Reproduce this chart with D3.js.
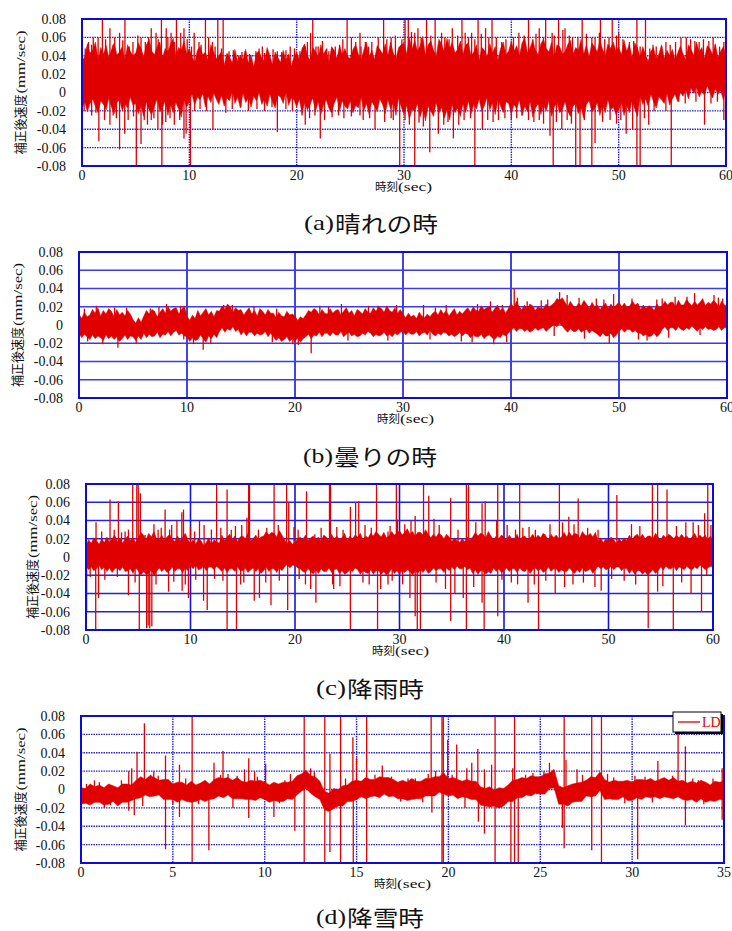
<!DOCTYPE html>
<html>
<head>
<meta charset="utf-8">
<script src="https://cdn.jsdelivr.net/npm/d3@7"></script>
<style>
  html, body { margin: 0; padding: 0; background: #fff; }
  svg { display: block; }
</style>
</head>
<body>
<svg id="chart" width="732" height="931"></svg>
<script>
// ---------------------------------------------------------------
// Corrected velocity records (mm/sec) under four weather conditions.
// Each record = dense core band (upper/lower envelope sampled every
// 0.25 s) + the isolated spikes that stand out of it.
// ---------------------------------------------------------------

const valueTicks = [0.08, 0.06, 0.04, 0.02, 0, -0.02, -0.04, -0.06, -0.08];
const valueTickLabels = ["0.08", "0.06", "0.04", "0.02", "0", "-0.02", "-0.04", "-0.06", "-0.08"];
const timeTicks60 = [0, 10, 20, 30, 40, 50, 60];
const timeTicks35 = [0, 5, 10, 15, 20, 25, 30, 35];

const captions = ["(a)", "(b)", "(c)", "(d)"];
const captionWords = ["晴れの時", "曇りの時", "降雨時", "降雪時"];
const yTitleJa = "補正後速度";
const yTitleUnit = "(mm/sec)";
const xTitleJa = "時刻";
const xTitleUnit = "(sec)";
const legendLabel = "LD";

// (a) clear weather — envelope every 0.25 s, 0…60 s
const clearHi = [
  .034,.039,.053,.043,.046,.055,.036,.049,.042,.051,.038,.047,.054,.041,.044,.050,.035,.052,.045,.040,
  .043,.054,.048,.039,.052,.058,.045,.041,.050,.055,.038,.048,.044,.053,.059,.040,.049,.046,.056,.042,
  .048,.039,.033,.046,.050,.041,.044,.035,.052,.045,.037,.040,.045,.030,.043,.039,.032,.047,.034,.040,
  .036,.047,.032,.041,.028,.043,.045,.037,.034,.049,.040,.030,.044,.038,.033,.046,.035,.042,.029,.039,
  .044,.036,.048,.053,.040,.035,.049,.045,.038,.052,.042,.047,.032,.050,.046,.037,.051,.041,.048,.039,
  .037,.047,.052,.042,.036,.046,.055,.039,.046,.036,.051,.047,.042,.053,.040,.055,.043,.037,.049,.052,
  .054,.042,.060,.047,.057,.045,.051,.061,.041,.052,.056,.046,.040,.058,.053,.044,.059,.048,.055,.043,
  .047,.056,.042,.052,.054,.040,.044,.052,.035,.049,.046,.039,.053,.043,.050,.036,.048,.055,.041,.045,
  .056,.045,.051,.040,.054,.060,.043,.049,.057,.046,.041,.053,.058,.048,.044,.055,.039,.052,.050,.042,
  .044,.052,.057,.042,.049,.046,.058,.042,.052,.039,.054,.050,.044,.057,.047,.040,.053,.048,.055,.045,
  .050,.041,.057,.045,.053,.038,.054,.049,.038,.050,.041,.034,.045,.049,.036,.042,.052,.037,.046,.040,
  .047,.036,.043,.051,.042,.036,.052,.047,.040,.055,.044,.049,.037,.051,.048,.041,.053,.038,.045,.050,
  .040];
const clearLo = [
  -.018,-.010,-.021,-.012,-.007,-.015,-.022,-.009,-.013,-.019,-.006,-.016,-.023,-.011,-.008,-.020,-.012,-.017,-.005,-.014,
  -.012,-.023,-.014,-.026,-.010,-.019,-.024,-.015,-.007,-.021,-.017,-.009,-.025,-.013,-.022,-.011,-.018,-.027,-.008,-.016,
  -.010,-.002,-.014,-.005,-.008,-.001,-.016,-.004,-.011,.000,-.007,-.013,-.003,-.015,-.006,-.009,.001,-.012,-.005,-.017,
  -.001,-.011,-.006,-.016,-.004,-.009,.000,-.013,-.007,-.015,-.002,-.010,-.017,-.003,-.005,-.012,.001,-.014,-.006,-.008,
  -.016,-.007,-.023,-.011,-.019,-.013,-.006,-.021,-.010,-.024,-.014,-.008,-.017,-.022,-.012,-.005,-.020,-.009,-.015,-.018,
  -.009,-.022,-.014,-.017,-.005,-.020,-.012,-.024,-.010,-.015,-.021,-.007,-.013,-.023,-.008,-.018,-.011,-.025,-.006,-.016,
  -.024,-.014,-.029,-.018,-.021,-.012,-.027,-.017,-.031,-.015,-.020,-.026,-.011,-.023,-.016,-.028,-.019,-.030,-.013,-.022,
  -.017,-.026,-.012,-.022,-.009,-.023,-.013,-.018,-.007,-.021,-.014,-.005,-.019,-.011,-.024,-.008,-.015,-.022,-.010,-.012,
  -.023,-.013,-.018,-.008,-.025,-.015,-.021,-.010,-.027,-.017,-.012,-.024,-.014,-.020,-.009,-.026,-.016,-.011,-.022,-.019,
  -.010,-.020,-.026,-.015,-.012,-.023,-.017,-.028,-.013,-.009,-.021,-.018,-.011,-.025,-.014,-.022,-.008,-.019,-.016,-.024,
  -.019,-.011,-.025,-.014,-.022,-.009,-.018,-.026,-.004,-.013,-.007,-.015,-.002,-.010,-.017,-.005,-.008,-.012,-.001,-.014,
  -.007,-.002,-.010,.000,-.004,.003,-.007,.005,-.001,.006,-.005,.001,-.003,.007,.000,-.006,.004,-.002,.002,-.008,
  .002];
const clearSpikes = [
  [1.9,.08],[4.0,.08],[7.4,.08],[8.8,.08],[11.5,.08],[12.65,.08],[13.15,.08],[21.5,.08],[24.7,.08],
  [28.1,.08],[30.1,.08],[30.4,.08],[32.1,.08],[32.9,.08],[35.4,.08],[36.9,.08],[38.2,.08],[41.6,.08],
  [43.2,.08],[44.4,.08],[46.6,.08],[48.3,.08],[49.4,.08],[51.7,.08],[52.5,.08],
  [5.06,-.08],[7.44,-.08],[10.1,-.08],[29.6,-.08],[31.0,-.08],[36.6,-.08],[43.9,-.08],[46.0,-.08],
  [46.4,-.08],[47.5,-.08],[51.7,-.08],[52.0,-.08],[54.9,-.08],
  [0.6,.055],[1.05,.06],[1.5,.06],[2.6,.07],[3.05,.06],[3.5,.065],[4.75,.055],[5.5,.06],[6.45,.07],
  [6.9,.065],[7.85,.07],[8.3,.065],[9.2,.065],[9.5,.07],[10.45,.065],[10.9,.055],[12.15,.055],
  [13.7,.045],[14.6,.04],[15.2,.045],[16.2,.045],[16.8,.05],[17.4,.04],[18.2,.045],[19.4,.05],
  [20.3,.045],[20.8,.05],[21.3,.065],[22.0,.05],[23.0,.045],[23.6,.05],[25.1,.06],[25.9,.065],
  [26.4,.055],[26.7,.05],[28.8,.06],[31.0,.065],[31.3,.07],[33.5,.065],[34.5,.07],[35.7,.065],
  [36.3,.065],[37.6,.07],[39.1,.055],[40.7,.065],[42.6,.07],[43.8,.065],[45.0,.07],[45.7,.06],
  [47.5,.06],[48.2,.065],[50.0,.065],[51.0,.055],[53.5,.05],[54.4,.055],[55.8,.06],[56.3,.06],
  [57.5,.055],[58.8,.06],[59.4,.05],
  [0.3,.048],[0.9,.052],[2.2,.058],[2.9,.052],[3.8,.057],[4.4,.05],[5.2,.062],[5.9,.055],[6.2,.06],
  [7.1,.058],[8.0,.06],[8.6,.055],[9.8,.058],[10.2,.05],[11.1,.052],[11.8,.06],[12.4,.05],[13.0,.048],
  [14.1,.046],[14.9,.044],[15.6,.042],[16.5,.048],[17.0,.043],[17.8,.047],[18.6,.044],[19.0,.046],
  [19.8,.048],[21.0,.055],[21.8,.05],[22.4,.056],[22.8,.048],[24.0,.052],[24.3,.058],[25.5,.055],
  [26.0,.05],[27.0,.055],[27.6,.06],[28.4,.058],[29.2,.062],[29.8,.058],[30.7,.066],[31.6,.06],
  [32.5,.062],[33.8,.06],[34.2,.058],[35.0,.062],[36.0,.06],[36.6,.058],[37.2,.064],[37.9,.06],
  [38.6,.06],[39.5,.058],[40.2,.06],[41.2,.062],[42.0,.058],[42.3,.064],[43.0,.06],[44.0,.062],
  [44.8,.068],[45.4,.062],[46.2,.06],[47.0,.064],[47.8,.06],[48.7,.058],[49.1,.06],[49.8,.062],
  [50.4,.058],[51.4,.056],[52.0,.05],[52.9,.048],[53.2,.052],[54.0,.05],[54.8,.052],[55.3,.055],
  [56.7,.058],[57.1,.056],[57.9,.058],[58.4,.056],[59.0,.052],[59.8,.055],
  [0.5,-.015],[1.57,-.053],[2.6,-.035],[3.5,-.062],[3.98,-.045],[5.5,-.056],[6.45,-.03],[7.07,-.04],
  [7.5,-.035],[9.5,-.05],[9.7,-.045],[12.2,-.04],[13.4,-.022],[18.2,-.043],[20.5,-.025],[20.8,-.035],
  [22.2,-.05],[23.9,-.025],[25.9,-.025],[27.3,-.04],[28.8,-.028],[30.1,-.03],[31.8,-.037],[32.4,-.065],
  [33.2,-.045],[34.6,-.05],[35.1,-.035],[37.3,-.04],[38.8,-.03],[41.0,-.025],[42.6,-.03],[43.6,-.047],
  [44.7,-.04],[47.8,-.055],[50.7,-.045],[51.3,-.04],[52.8,-.035],[54.4,-.02],[58.0,-.035],[59.8,-.03],
  [0.2,-.02],[0.9,-.025],[1.3,-.022],[2.1,-.03],[2.9,-.025],[3.2,-.028],[4.3,-.03],[4.8,-.026],
  [5.8,-.03],[6.1,-.035],[6.7,-.028],[7.8,-.032],[8.2,-.028],[8.6,-.035],[9.1,-.03],[10.5,-.02],
  [11.0,-.018],[11.6,-.02],[14.0,-.018],[14.8,-.016],[15.5,-.02],[16.3,-.018],[17.0,-.02],[17.7,-.016],
  [19.0,-.018],[19.6,-.02],[21.2,-.028],[21.7,-.025],[22.6,-.03],[23.3,-.027],[24.4,-.028],[25.1,-.026],
  [26.2,-.03],[26.8,-.028],[28.2,-.032],[29.0,-.03],[30.5,-.035],[31.4,-.033],[33.7,-.035],[34.1,-.032],
  [35.6,-.03],[36.2,-.028],[37.8,-.03],[38.3,-.032],[39.4,-.028],[40.0,-.03],[40.5,-.028],[41.6,-.03],
  [42.1,-.032],[43.0,-.034],[44.2,-.032],[45.2,-.03],[45.6,-.034],[46.8,-.03],[48.5,-.032],[49.2,-.03],
  [49.8,-.034],[50.2,-.03],[52.4,-.028],[53.3,-.02],[55.6,-.01],[56.2,-.012],[57.2,-.01],[58.6,-.012],
  [59.2,-.01]
];

// (b) cloudy — envelope every 0.25 s, 0…60 s
const cloudyHi = [
  .012,.007,.014,.009, .011,.017,.013,.019, .010,.016,.012,.018, .015,.009,.017,.011, .014,.010,.016,.012,
  .006,.002,.008,.003, .010,.016,.012,.017, .015,.009,.014,.018, .013,.020,.015,.018, .019,.012,.017,.021,
  .010,.005,.011,.007, .016,.010,.014,.018, .011,.015,.009,.016, .015,.021,.017,.023, .020,.014,.019,.016,
  .017,.011,.015,.019, .012,.016,.010,.018, .015,.011,.017,.013, .013,.008,.014,.010, .009,.015,.011,.012,
  .010,.005,.009,.007, .011,.016,.014,.018, .016,.011,.017,.013, .012,.018,.013,.016, .017,.011,.015,.019,
  .013,.016,.010,.017, .015,.012,.018,.014, .013,.019,.015,.020, .018,.014,.021,.016, .014,.019,.013,.017,
  .012,.008,.013,.009, .011,.007,.014,.010, .008,.012,.009,.013, .015,.011,.017,.012, .016,.010,.014,.018,
  .011,.015,.012,.016, .019,.014,.020,.016, .015,.021,.017,.019, .020,.014,.018,.022, .016,.019,.013,.018,
  .024,.019,.026,.020, .017,.022,.018,.023, .021,.016,.020,.018, .018,.023,.019,.022, .024,.029,.027,.030,
  .025,.020,.026,.021, .019,.024,.021,.027, .023,.018,.025,.020, .022,.017,.021,.024, .018,.023,.019,.022,
  .025,.020,.024,.019, .021,.026,.022,.024, .017,.022,.018,.021, .020,.016,.023,.019, .021,.026,.022,.025,
  .025,.020,.027,.022, .022,.028,.024,.021, .026,.022,.025,.029, .021,.025,.023,.027, .024,.020,.026,.022,
  .021];
const cloudyLo = [
  -.009,-.014,-.010,-.013, -.016,-.011,-.015,-.012, -.014,-.017,-.011,-.015, -.012,-.016,-.013,-.018, -.015,-.011,-.016,-.012,
  -.013,-.017,-.012,-.016, -.009,-.014,-.010,-.013, -.012,-.008,-.014,-.010, -.011,-.007,-.012,-.008, -.006,-.011,-.009,-.012,
  -.013,-.018,-.014,-.017, -.016,-.011,-.015,-.019, -.012,-.015,-.010,-.014, -.007,-.003,-.008,-.004, -.006,-.002,-.007,-.005,
  -.011,-.007,-.012,-.008, -.008,-.012,-.009,-.011, -.010,-.007,-.013,-.009, -.013,-.017,-.014,-.018, -.016,-.013,-.018,-.015,
  -.018,-.014,-.019,-.015, -.013,-.010,-.015,-.011, -.012,-.008,-.013,-.009, -.009,-.012,-.008,-.011, -.011,-.007,-.013,-.010,
  -.008,-.012,-.010,-.013, -.012,-.009,-.011,-.007, -.009,-.013,-.010,-.012, -.011,-.008,-.012,-.010, -.013,-.009,-.011,-.008,
  -.007,-.011,-.008,-.010, -.010,-.007,-.012,-.009, -.008,-.011,-.006,-.010, -.012,-.009,-.011,-.008, -.009,-.012,-.010,-.013,
  -.011,-.008,-.012,-.009, -.010,-.014,-.011,-.013, -.013,-.010,-.015,-.012, -.011,-.014,-.016,-.012, -.014,-.010,-.012,-.009,
  -.006,-.003,-.007,-.004, -.004,-.007,-.005,-.008, -.006,-.003,-.006,-.004, -.003,-.007,-.004,-.002, .001,-.002,.002,-.001,
  -.005,-.008,-.004,-.007, -.007,-.004,-.008,-.006, -.005,-.009,-.006,-.008, -.010,-.013,-.009,-.012, -.012,-.009,-.014,-.011,
  -.007,-.004,-.008,-.005, -.005,-.008,-.006,-.009, -.009,-.012,-.010,-.013, -.012,-.009,-.013,-.010, -.005,-.002,-.006,-.003,
  -.003,-.006,-.002,-.005, -.006,-.003,-.005,-.001, -.004,-.007,-.003,-.005, -.002,-.005,-.004,-.006, -.005,-.002,-.006,-.003,
  -.003];
const cloudySpikes = [
  [1.6,.021],[2.2,-.021],[3.3,.019],[3.6,-.025],[7.4,.020],[8.1,.023],[11.5,-.027],[12.2,-.020],
  [14.2,.022],[19.8,-.021],[21.5,-.031],[22.3,.021],[24.3,.023],[26.8,.021],[31.9,.022],[34.0,.022],
  [36.4,-.019],[38.1,.026],[38.4,-.021],[40.3,.040],[40.6,.030],[42.8,.027],[44.5,.036],[45.2,.033],
  [47.9,.029],[49.1,-.020],[49.5,.034],[52.6,-.017],[53.5,.028],[55.2,.031],[57.0,.035],[58.8,.033],
  [59.6,.029],
  [0.5,.018],[4.4,.019],[6.6,.018],[9.4,.021],[13.4,.022],[16.2,.020],[18.3,.018],[23.1,.020],
  [27.7,.021],[29.4,.022],[33.0,.019],[36.9,.023],[39.2,.022],[41.5,.026],[43.4,.028],[46.3,.030],
  [48.6,.028],[51.2,.029],[54.0,.029],[56.3,.031],[59.2,.030],
  [0.8,-.018],[5.3,-.020],[9.7,-.016],[10.6,-.021],[17.9,-.019],[20.3,-.022],[24.9,-.017],[28.6,-.017],
  [32.5,-.016],[35.4,-.018],[39.6,-.019],[44.0,-.012],[46.8,-.015],[51.8,-.016],[54.6,-.014],[57.5,-.011]
];

// (c) rain — envelope every 0.25 s, 0…60 s
const rainHi = [
  .013,.019,.015,.021, .018,.014,.020,.016, .022,.016,.020,.024, .017,.021,.015,.020, .023,.018,.021,.016,
  .021,.027,.024,.019, .026,.022,.028,.020, .019,.024,.018,.022, .025,.020,.017,.023, .018,.022,.026,.019,
  .015,.019,.014,.020, .018,.013,.016,.021, .014,.019,.017,.015, .024,.018,.022,.025, .019,.023,.017,.022,
  .023,.020,.026,.018, .020,.024,.019,.022, .023,.028,.024,.027, .026,.022,.029,.024, .019,.015,.018,.014,
  .016,.020,.022,.019, .024,.018,.021,.023, .019,.022,.017,.024, .022,.018,.025,.020, .023,.019,.021,.026,
  .018,.023,.020,.024, .022,.026,.019,.023, .021,.026,.023,.028, .025,.022,.027,.021, .023,.028,.024,.026,
  .029,.024,.027,.031, .025,.028,.023,.027, .027,.024,.030,.025, .021,.025,.022,.026, .024,.020,.025,.022,
  .017,.021,.018,.016, .020,.017,.022,.019, .022,.027,.023,.026, .025,.021,.028,.023, .019,.023,.020,.024,
  .022,.018,.024,.020, .020,.025,.019,.022, .023,.019,.021,.025, .020,.024,.021,.026, .023,.019,.025,.021,
  .024,.020,.022,.027, .022,.027,.023,.026, .025,.021,.028,.024, .023,.026,.022,.027, .017,.021,.016,.020,
  .018,.022,.019,.015, .020,.017,.021,.018, .024,.019,.023,.025, .021,.025,.020,.023, .023,.020,.026,.022,
  .019,.024,.021,.025, .023,.020,.024,.021, .025,.021,.023,.019, .022,.026,.020,.024, .021,.024,.019,.023,
  .018];
const rainLo = [
  -.010,-.014,-.011,-.015, -.013,-.009,-.014,-.011, -.016,-.012,-.017,-.013, -.012,-.015,-.011,-.016, -.015,-.013,-.018,-.012,
  -.015,-.020,-.016,-.019, -.018,-.014,-.021,-.016, -.012,-.016,-.013,-.017, -.015,-.011,-.016,-.013, -.013,-.017,-.012,-.015,
  -.010,-.013,-.009,-.014, -.013,-.010,-.015,-.011, -.011,-.014,-.010,-.013, -.016,-.012,-.017,-.013, -.013,-.016,-.011,-.015,
  -.015,-.012,-.017,-.014, -.012,-.016,-.013,-.018, -.015,-.011,-.016,-.013, -.013,-.017,-.012,-.015, -.011,-.008,-.012,-.009,
  -.009,-.012,-.013,-.016, -.017,-.013,-.016,-.019, -.014,-.018,-.013,-.016, -.016,-.012,-.017,-.014, -.013,-.018,-.015,-.019,
  -.017,-.014,-.016,-.012, -.014,-.019,-.015,-.017, -.018,-.014,-.019,-.015, -.015,-.019,-.016,-.020, -.017,-.013,-.018,-.015,
  -.019,-.015,-.017,-.014, -.016,-.020,-.015,-.018, -.014,-.017,-.013,-.018, -.016,-.012,-.015,-.013, -.013,-.017,-.012,-.015,
  -.011,-.014,-.010,-.013, -.013,-.010,-.014,-.012, -.018,-.014,-.019,-.015, -.015,-.019,-.016,-.018, -.012,-.016,-.013,-.017,
  -.015,-.012,-.016,-.013, -.013,-.017,-.012,-.015, -.016,-.013,-.018,-.014, -.012,-.015,-.013,-.017, -.015,-.011,-.016,-.013,
  -.013,-.017,-.014,-.016, -.016,-.012,-.015,-.018, -.014,-.017,-.012,-.016, -.015,-.013,-.018,-.014, -.010,-.013,-.011,-.014,
  -.013,-.010,-.014,-.011, -.011,-.015,-.012,-.013, -.018,-.014,-.019,-.015, -.015,-.019,-.016,-.020, -.017,-.014,-.018,-.015,
  -.011,-.014,-.010,-.013, -.013,-.010,-.015,-.011, -.012,-.014,-.010,-.013, -.014,-.011,-.013,-.009, -.011,-.014,-.012,-.010,
  -.011];
const rainSpikes = [
  [4.47,.08],[4.86,.08],[5.0,.08],[12.5,.08],[15.56,.08],[15.65,.08],[18.0,.08],[19.2,.08],[23.3,.08],
  [23.4,.08],[27.8,.08],[29.7,.08],[32.3,.08],[36.4,.08],[36.6,.08],[39.4,.08],[41.5,.08],[45.3,.08],
  [54.2,.08],[54.7,.08],[59.5,.08],
  [0.93,-.08],[5.1,-.08],[13.5,-.08],[14.4,-.08],[25.3,-.08],[27.9,-.08],[31.7,-.08],[32.0,-.08],
  [36.4,-.08],[38.1,-.08],[43.3,-.08],[56.2,-.08],
  [0.96,.038],[2.3,.063],[3.1,.061],[3.74,.028],[4.06,.030],[5.2,.070],[5.65,.024],[6.5,.036],
  [7.57,.052],[8.2,.035],[8.7,.040],[9.17,.049],[9.33,.052],[10.0,.033],[10.86,.040],[11.3,.035],
  [13.5,.074],[14.9,.035],[15.4,.043],[19.4,.060],[19.9,.033],[21.1,.072],[21.9,.025],[25.3,.055],
  [25.8,.060],[26.1,.061],[28.9,.028],[29.8,.041],[31.5,.045],[32.8,.067],[33.3,.042],[34.9,.065],
  [37.9,.059],[38.2,.061],[39.3,.040],[41.1,.030],[42.4,.033],[43.0,.030],[43.9,.025],[46.2,.044],
  [47.1,.064],[50.8,.068],[55.6,.074],[58.1,.038],[59.2,.048],[59.8,.035],
  [1.5,.028],[2.7,.030],[3.4,.027],[6.9,.030],[7.2,.032],[8.0,.030],[10.4,.028],[12.0,.030],
  [12.9,.032],[13.9,.030],[14.3,.034],[16.5,.030],[17.3,.032],[18.4,.035],[20.3,.030],[22.5,.032],
  [24.0,.033],[24.6,.030],[26.7,.035],[27.3,.032],[29.1,.034],[30.5,.036],[31.1,.040],[33.8,.035],
  [35.6,.030],[37.3,.038],[40.3,.035],[41.8,.032],[44.4,.036],[45.6,.038],[46.7,.036],[48.0,.032],
  [49.0,.030],[52.2,.036],[53.0,.034],[56.5,.034],[57.4,.038],[58.6,.035],
  [0.06,-.060],[0.4,-.022],[1.2,-.045],[4.06,-.042],[5.8,-.078],[5.95,-.075],[6.1,-.078],[6.3,-.076],
  [7.9,-.038],[9.2,-.037],[9.5,-.030],[9.8,-.045],[11.25,-.048],[11.6,-.058],[15.1,-.028],[16.1,-.048],
  [16.6,-.045],[17.7,-.053],[19.3,-.058],[21.5,-.035],[22.0,-.050],[23.6,-.030],[23.7,-.035],
  [28.2,-.035],[28.9,-.030],[31.0,-.045],[31.5,-.065],[34.4,-.035],[34.9,-.070],[35.3,-.040],
  [36.1,-.045],[37.9,-.050],[39.4,-.065],[39.8,-.025],[42.3,-.050],[42.9,-.030],[44.9,-.040],
  [45.8,-.033],[48.7,-.033],[49.3,-.037],[53.8,-.078],[54.7,-.038],[57.9,-.040],[58.9,-.060],[59.4,-.020],
  [1.8,-.025],[3.0,-.022],[4.7,-.028],[6.7,-.030],[8.4,-.027],[10.5,-.025],[12.3,-.024],[13.1,-.026],
  [14.8,-.030],[17.2,-.028],[18.5,-.026],[20.4,-.024],[21.0,-.030],[24.3,-.032],[26.5,-.028],
  [27.1,-.030],[29.3,-.026],[30.3,-.030],[33.5,-.028],[37.1,-.033],[40.7,-.028],[41.3,-.030],
  [44.0,-.026],[46.6,-.030],[47.6,-.028],[50.3,-.024],[51.5,-.026],[52.6,-.030],[55.2,-.032],[57.0,-.028]
];

// (d) snow — envelope every 0.25 s, 0…35 s
const snowHi = [
  .002,.001,.006,.003, .005,.002,.006,.004, .002,.006,.006,.005, .010,.014,.011,.015,
  .013,.010,.011,.011, .006,.008,.008,.005, .009,.005,.007,.010, .006,.011,.013,.012,
  .013,.010,.013,.009, .008,.010,.009,.010, .008,.005,.008,.006, .008,.008,.009,.015,
  .017,.021,.015,.014, .009,-.002,-.004,.001, .000,.004,.005,.009, .010,.009,.013,.011,
  .011,.014,.013,.013, .011,.008,.010,.008, .012,.009,.009,.012, .012,.014,.014,.018,
  .012,.013,.011,.009, .011,.009,.009,.003, .001,.003,-.001,.002, .001,.005,.010,.011,
  .013,.012,.015,.014, .014,.017,.018,.022, .004,.002,.004,.006, .007,.008,.010,.014,
  .013,.019,.011,.008, .010,.009,.009,.010, .008,.011,.011,.010, .012,.009,.011,.013,
  .010,.013,.009,.010, .007,.009,.007,.010, .008,.005,.009,.008, .009];
const snowLo = [
  -.016,-.015,-.017,-.014, -.014,-.017,-.016,-.013, -.018,-.014,-.014,-.012, -.010,-.009,-.006,-.008,
  -.007,-.006,-.011,-.011, -.011,-.014,-.011,-.013, -.014,-.013,-.011,-.013, -.011,-.010,-.007,-.009,
  -.006,-.010,-.010,-.010, -.011,-.011,-.012,-.009, -.011,-.014,-.012,-.013, -.013,-.010,-.011,-.006,
  -.002,.001,-.004,-.008, -.011,-.022,-.024,-.021, -.018,-.018,-.013,-.013, -.011,-.008,-.010,-.008,
  -.007,-.009,-.005,-.008, -.007,-.010,-.010,-.012, -.011,-.010,-.010,-.007, -.007,-.007,-.003,-.005,
  -.007,-.006,-.010,-.008, -.009,-.011,-.011,-.017, -.018,-.019,-.018,-.020, -.018,-.013,-.013,-.009,
  -.009,-.006,-.007,-.004, -.005,-.005,.001,.002, -.016,-.016,-.018,-.014, -.013,-.013,-.007,-.008,
  -.007,-.001,-.011,-.010, -.011,-.011,-.008,-.012, -.012,-.009,-.011,-.008, -.009,-.008,-.010,-.008,
  -.009,-.010,-.008,-.011, -.012,-.011,-.014,-.010, -.014,-.012,-.013,-.011, -.011];
const snowSpikes = [
  [0.0,-.015],[0.73,.010],[1.27,-.020],[2.6,.020],[2.6,-.023],[2.76,.023],[2.9,-.028],[3.05,.041],
  [3.36,-.018],[3.45,.072],[3.96,.020],[4.6,.037],[4.6,-.065],[5.36,.027],[5.36,-.030],[6.05,.08],
  [6.05,-.08],[6.96,-.066],[7.24,.029],[7.73,.042],[8.27,-.020],[8.9,.022],[9.13,.034],[9.13,-.031],
  [9.45,.020],[10.05,.028],[10.5,-.030],[11.4,.017],[11.64,-.045],[12.15,.08],[12.15,-.08],[12.5,.023],
  [13.27,.08],[13.27,-.08],[13.55,.039],[13.55,-.068],[14.13,.08],[14.13,-.08],[14.8,.057],[14.82,-.08],
  [15.0,.035],[15.55,.08],[15.55,-.08],[16.4,.026],[17.8,.012],[18.9,.017],[19.06,.08],[19.1,-.025],
  [19.3,.020],[19.65,.08],[19.65,-.08],[19.72,.08],[19.72,-.08],[19.96,.054],[20.45,.049],[20.45,-.008],
  [20.9,-.020],[21.0,.023],[21.27,.029],[21.6,.044],[21.63,-.035],[21.96,.022],[21.96,-.048],
  [22.35,.027],[22.54,.08],[22.54,-.08],[23.4,-.08],[23.5,.023],[23.6,.08],[23.6,-.08],[23.8,-.08],
  [24.8,-.005],[25.5,.029],[26.2,-.042],[26.3,.08],[26.3,-.064],[26.4,.032],[27.0,.022],[27.8,.08],
  [27.8,-.066],[28.33,.08],[28.33,-.08],[28.66,.017],[30.15,.015],[30.3,-.076],[31.4,.031],[31.8,.010],
  [32.5,.061],[32.9,.047],[32.9,-.039],[33.6,.010],[34.9,.023],[34.9,-.033],
  [0.3,.006],[1.0,.008],[1.6,-.017],[2.2,.010],[3.8,.016],[4.2,.015],[5.0,-.016],[5.7,.012],
  [6.4,-.016],[7.6,.016],[8.0,.017],[8.5,.015],[9.6,.014],[10.8,-.015],[11.1,.010],[12.7,.020],
  [14.4,.012],[16.0,.016],[16.9,.014],[17.4,-.013],[18.2,.012],[18.6,-.014],[20.2,.016],[22.8,-.020],
  [24.2,.016],[24.6,.018],[25.2,.020],[27.3,.016],[29.0,.013],[29.6,-.015],[30.7,.014],[31.1,-.014],
  [32.2,.015],[33.3,.012],[33.9,-.016],[34.4,.012]
];

// ---------------------------------------------------------------
const SERIF = "'Liberation Serif', serif";
const JA = "'Noto Sans CJK JP', sans-serif";
const RED = "#e00000";
const STEP = 0.25;

const panels = [
  { hi: clearHi,  lo: clearLo,  spikes: clearSpikes,  tMax: 60, ticks: timeTicks60,
    x0: 82, x1: 726, y0: 19,  y1: 166, grid: "dot",   yTitleX: 20, capY: 232, capX: 304, capW: 103, xTitleX: 375 },
  { hi: cloudyHi, lo: cloudyLo, spikes: cloudySpikes, tMax: 60, ticks: timeTicks60,
    x0: 79, x1: 727, y0: 252, y1: 398, grid: "solid", yTitleX: 17, capY: 465, capX: 303, capW: 103, xTitleX: 377 },
  { hi: rainHi,   lo: rainLo,   spikes: rainSpikes,   tMax: 60, ticks: timeTicks60,
    x0: 86, x1: 713, y0: 484, y1: 630, grid: "solid", yTitleX: 32, capY: 697, capX: 316, capW: 77,  xTitleX: 372 },
  { hi: snowHi,   lo: snowLo,   spikes: snowSpikes,   tMax: 35, ticks: timeTicks35,
    x0: 81, x1: 724, y0: 716, y1: 863, grid: "dot",   yTitleX: 20, capY: 926, capX: 316, capW: 77,  xTitleX: 374, legend: true }
];

const svg = d3.select("#chart");
const defs = svg.append("defs");

panels.forEach((p, k) => {
  const x = d3.scaleLinear().domain([0, p.tMax]).range([p.x0, p.x1]);
  const y = d3.scaleLinear().domain([-0.08, 0.08]).range([p.y1, p.y0]);
  const g = svg.append("g");

  // grid
  const dotted = p.grid === "dot";
  g.append("g").selectAll("line").data(p.ticks.slice(1, -1)).join("line")
    .attr("x1", d => x(d)).attr("x2", d => x(d))
    .attr("y1", p.y0).attr("y2", p.y1)
    .attr("stroke", dotted ? "#2323e0" : "#1414d8")
    .attr("stroke-width", dotted ? 1.4 : 1.6)
    .attr("stroke-dasharray", dotted ? "1.5,1" : null);
  g.append("g").selectAll("line").data(valueTicks.slice(1, -1)).join("line")
    .attr("x1", p.x0).attr("x2", p.x1)
    .attr("y1", d => y(d)).attr("y2", d => y(d))
    .attr("stroke", dotted ? "#2323e0" : (k === 1 ? "#3b3bec" : "#2222e4"))
    .attr("stroke-width", dotted ? 1.4 : 1.6)
    .attr("stroke-dasharray", dotted ? "1.5,1" : null);

  // clip to plot area
  const clipId = "clip" + k;
  defs.append("clipPath").attr("id", clipId).append("rect")
    .attr("x", p.x0).attr("y", p.y0).attr("width", p.x1 - p.x0).attr("height", p.y1 - p.y0);
  const plot = g.append("g").attr("clip-path", `url(#${clipId})`);

  // dense core band
  const band = d3.area()
    .x((d, i) => x(i * STEP))
    .y0((d, i) => y(p.lo[i]))
    .y1(d => y(d));
  plot.append("path").datum(p.hi).attr("d", band)
    .attr("fill", RED).attr("stroke", RED).attr("stroke-width", 0.5);

  // isolated spikes rising out of the band
  const centre = t => {
    const i = Math.min(p.hi.length - 1, Math.max(0, Math.round(t / STEP)));
    return (p.hi[i] + p.lo[i]) / 2;
  };
  plot.append("g").selectAll("line").data(p.spikes).join("line")
    .attr("x1", d => x(d[0])).attr("x2", d => x(d[0]))
    .attr("y1", d => y(centre(d[0]))).attr("y2", d => y(d[1]))
    .attr("stroke", RED).attr("stroke-width", 1.3);

  // frame
  g.append("rect").attr("x", p.x0).attr("y", p.y0)
    .attr("width", p.x1 - p.x0).attr("height", p.y1 - p.y0)
    .attr("fill", "none").attr("stroke", "#0c0cd6").attr("stroke-width", 2);

  // tick labels
  g.append("g").selectAll("text").data(valueTicks).join("text")
    .attr("x", p.x0 - 16).attr("y", d => y(d)).attr("dy", "0.35em")
    .attr("text-anchor", "end").attr("font-family", SERIF).attr("font-size", 14)
    .attr("fill", "#111").text((d, i) => valueTickLabels[i]);
  g.append("g").selectAll("text").data(p.ticks).join("text")
    .attr("x", d => x(d)).attr("y", p.y1 + 14)
    .attr("text-anchor", "middle").attr("font-family", SERIF).attr("font-size", 14)
    .attr("fill", "#111").text(d => d);

  // x axis title
  const xt = p.y1 + 25;
  g.append("text").attr("x", p.xTitleX).attr("y", xt)
    .attr("font-family", JA).attr("font-size", 11.5).attr("fill", "#111").text(xTitleJa);
  g.append("text").attr("x", p.xTitleX + 23).attr("y", xt)
    .attr("font-family", SERIF).attr("font-size", 13).attr("fill", "#111")
    .attr("textLength", 34).attr("lengthAdjust", "spacingAndGlyphs").text(xTitleUnit);

  // y axis title (rotated)
  const cy = (p.y0 + p.y1) / 2;
  const yt = g.append("g").attr("transform", `translate(${p.yTitleX + 5},${cy}) rotate(-90)`);
  yt.append("text").attr("x", -62).attr("y", 0)
    .attr("font-family", JA).attr("font-size", 13).attr("fill", "#111")
    .attr("textLength", 60).attr("lengthAdjust", "spacingAndGlyphs").text(yTitleJa);
  yt.append("text").attr("x", -1).attr("y", 0)
    .attr("font-family", SERIF).attr("font-size", 13.5).attr("fill", "#111")
    .attr("textLength", 63).attr("lengthAdjust", "spacingAndGlyphs").text(yTitleUnit);

  // caption
  svg.append("text").attr("x", p.capX).attr("y", p.capY - 2)
    .attr("font-family", SERIF).attr("font-size", 22).attr("fill", "#111")
    .attr("textLength", 30).attr("lengthAdjust", "spacingAndGlyphs").text(captions[k]);
  svg.append("text").attr("x", p.capX + 31).attr("y", p.capY)
    .attr("font-family", JA).attr("font-size", 22).attr("fill", "#111")
    .attr("textLength", p.capW).attr("lengthAdjust", "spacingAndGlyphs").text(captionWords[k]);

  // legend
  if (p.legend) {
    const lg = g.append("g");
    lg.append("rect").attr("x", 675).attr("y", 714).attr("width", 48).attr("height", 20).attr("fill", "#000");
    lg.append("rect").attr("x", 673).attr("y", 712).attr("width", 48).attr("height", 20)
      .attr("fill", "#fff").attr("stroke", "#000").attr("stroke-width", 1);
    lg.append("line").attr("x1", 678).attr("x2", 700).attr("y1", 722).attr("y2", 722)
      .attr("stroke", RED).attr("stroke-width", 1.3);
    lg.append("text").attr("x", 702).attr("y", 727)
      .attr("font-family", SERIF).attr("font-size", 14).attr("fill", RED).text(legendLabel);
  }
});
</script>
</body>
</html>
